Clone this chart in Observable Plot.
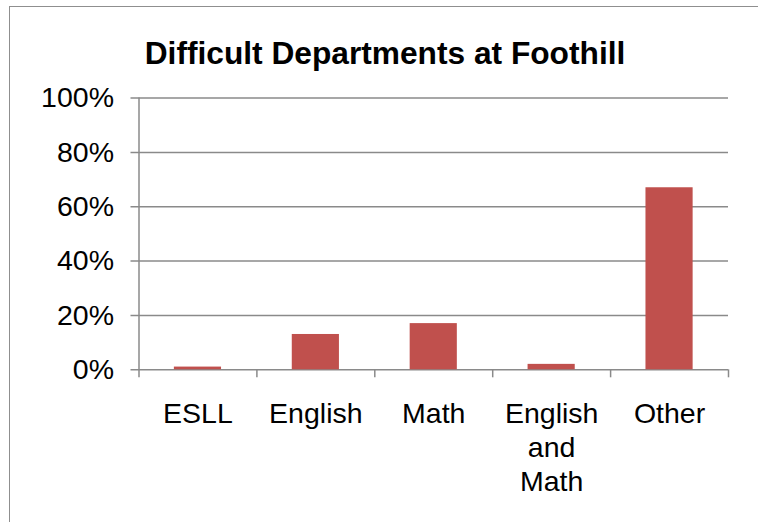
<!DOCTYPE html>
<html>
<head>
<meta charset="utf-8">
<script src="https://cdn.jsdelivr.net/npm/d3@7"></script>
<script src="https://cdn.jsdelivr.net/npm/@observablehq/plot@0.6"></script>
<style>
  html, body { margin: 0; padding: 0; background: #fff; }
  body { width: 758px; height: 522px; position: relative; overflow: hidden; font-family: "Liberation Sans", Arial, sans-serif; }
  #frame { position: absolute; left: 9px; top: 6px; width: 760px; height: 560px; border: 1.5px solid #8f8f8f; box-sizing: border-box; }
  #title { position: absolute; left: 0; width: 770px; top: 37px; text-align: center; font-size: 31.7px; line-height: 32px; font-weight: bold; color: #000; }
  #chart { position: absolute; left: 0; top: 0; }
</style>
</head>
<body>
<div id="frame"></div>
<div id="title">Difficult Departments at Foothill</div>
<div id="chart"></div>
<script>
const categories = ["ESLL", "English", "Math", "English and Math", "Other"];
const categoryLabels = ["ESLL", "English", "Math", "English\nand\nMath", "Other"];
const values = [1, 13, 17, 2, 67];
const yTicks = [0, 20, 40, 60, 80, 100];

const data = categories.map((c, i) => ({category: c, label: categoryLabels[i], index: i, value: values[i]}));
const boundaries = d3.range(categories.length + 1);

const gray = "#8a8a8a";
const fontSize = 28.5;

const chart = Plot.plot({
  width: 758,
  height: 522,
  marginLeft: 138.5,
  marginRight: 30,
  marginTop: 97.6,
  marginBottom: 152.7,
  style: {fontFamily: "'Liberation Sans', Arial, sans-serif", background: "transparent", overflow: "visible"},
  x: {domain: [0, categories.length], axis: null},
  y: {domain: [0, 100], axis: null},
  marks: [
    Plot.ruleY(yTicks, {y: d => d, stroke: gray, strokeWidth: 1.5, insetLeft: -8}),
    Plot.rectY(data, {x1: d => d.index + 0.3, x2: d => d.index + 0.7, y1: 0, y2: "value", fill: "#C0504D"}),
    Plot.ruleX([0], {x: d => d, stroke: gray, strokeWidth: 1.5, insetBottom: -8}),
    Plot.ruleX(boundaries.slice(1), {x: d => d, y1: 0, y2: 0, stroke: gray, strokeWidth: 1.5, insetBottom: -8}),
    Plot.text(yTicks, {y: d => d, text: d => d + "%", frameAnchor: "left", textAnchor: "end", dx: -25, fontSize: fontSize, fill: "#000"}),
    Plot.text(data, {x: d => d.index + 0.5, text: "label", frameAnchor: "bottom", lineAnchor: "top", dy: 29, lineHeight: 1.2, fontSize: fontSize, fill: "#000"})
  ]
});
document.getElementById("chart").appendChild(chart);
</script>
</body>
</html>
